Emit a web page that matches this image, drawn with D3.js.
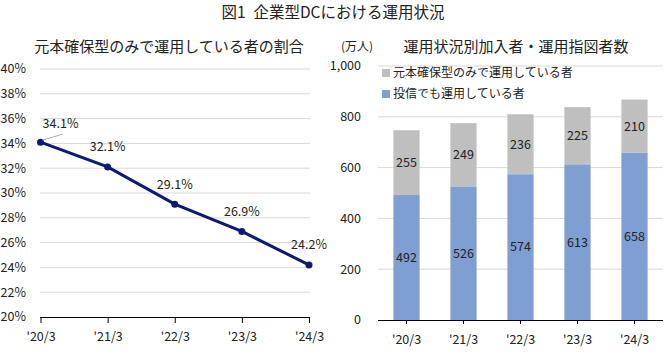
<!DOCTYPE html>
<html><head><meta charset="utf-8">
<script src="https://cdn.jsdelivr.net/npm/d3@7"></script>
<style>
body{margin:0;background:#fff;}
svg{display:block;font-family:"Noto Sans CJK JP","Noto Sans",sans-serif;}
</style></head><body>
<svg id="c" width="666" height="357"></svg>
<script>
const categories = ["'20/3","'21/3","'22/3","'23/3","'24/3"];
const ratioValues = [34.1, 32.1, 29.1, 26.9, 24.2];
const ratioTicks = [20,22,24,26,28,30,32,34,36,38,40];
const principalOnly = [255, 249, 236, 225, 210];
const withFunds = [492, 526, 574, 613, 658];
const countTicks = [0,200,400,600,800,1000];
const seriesNames = ["元本確保型のみで運用している者","投信でも運用している者"];
const mainTitle = "図1\u2002企業型DCにおける運用状況";
const leftTitle = "元本確保型のみで運用している者の割合";
const rightTitle = "運用状況別加入者・運用指図者数";
const unitLabel = "(万人)";

const svg = d3.select("#c");
const txt = "#222";
const grid = "#d9d9d9";

svg.append("text").attr("x",333).attr("y",18).attr("text-anchor","middle")
  .attr("font-size",15.5).attr("fill",txt).text(mainTitle);

// ---------- Left line chart ----------
const xL = d3.scalePoint().domain(categories).range([40.5,309]);
const yL = d3.scaleLinear().domain([20,40]).range([317,69]);
const gL = svg.append("g");
gL.append("text").attr("x",169).attr("y",52).attr("text-anchor","middle")
  .attr("font-size",15).attr("fill",txt).text(leftTitle);
gL.selectAll("line.grid").data(ratioTicks.filter(d=>d>20)).join("line")
  .attr("x1",40).attr("x2",310).attr("y1",d=>yL(d)).attr("y2",d=>yL(d))
  .attr("stroke",grid).attr("stroke-width",1);
gL.selectAll("text.yt").data(ratioTicks).join("text")
  .attr("x",26).attr("y",d=>yL(d)).attr("dy","0.35em").attr("text-anchor","end")
  .attr("font-size",12.5).attr("fill",txt).text(d=>d+"%");
const axL = gL.append("g").attr("transform","translate(0,317)")
  .call(d3.axisBottom(xL).tickSize(6).tickPadding(9));
axL.select(".domain").attr("stroke","#000").attr("d","M40,0.5H310");
axL.selectAll(".tick line").attr("stroke","#000");
axL.selectAll(".tick text").attr("font-size",12.5).attr("fill",txt)
  .attr("font-family","\"Noto Sans CJK JP\",sans-serif");
const line = d3.line().x((d,i)=>xL(categories[i])).y(d=>yL(d));
gL.append("path").datum(ratioValues).attr("d",line).attr("fill","none")
  .attr("stroke","#0b1a78").attr("stroke-width",3);
gL.selectAll("circle").data(ratioValues).join("circle")
  .attr("cx",(d,i)=>xL(categories[i])).attr("cy",d=>yL(d)).attr("r",3.5).attr("fill","#0b1a78");
// leader line for first label
gL.append("line").attr("x1",xL(categories[0])+2).attr("y1",yL(ratioValues[0])-2)
  .attr("x2",xL(categories[0])+22).attr("y2",yL(ratioValues[0])-8)
  .attr("stroke","#aaa").attr("stroke-width",1);
gL.selectAll("text.lbl").data(ratioValues).join("text")
  .attr("x",(d,i)=> i===0 ? xL(categories[i])+20 : xL(categories[i]))
  .attr("y",(d,i)=> yL(d) - (i===0 ? 19 : 20)).attr("dy","0.35em")
  .attr("text-anchor","middle").attr("font-size",12.5).attr("fill",txt)
  .text(d=>d.toFixed(1)+"%");

// ---------- Right stacked bar chart ----------
const xR = d3.scaleBand().domain(categories).range([378,663]).paddingInner(0.54).paddingOuter(0.27);
const yR = d3.scaleLinear().domain([0,1000]).range([320,66]);
const gR = svg.append("g");
gR.append("text").attr("x",516).attr("y",52).attr("text-anchor","middle")
  .attr("font-size",15).attr("fill",txt).text(rightTitle);
gR.append("text").attr("x",357).attr("y",51).attr("text-anchor","middle")
  .attr("font-size",12).attr("fill",txt).text(unitLabel);
gR.selectAll("line.grid").data(countTicks.filter(d=>d>0)).join("line")
  .attr("x1",378).attr("x2",663).attr("y1",d=>yR(d)).attr("y2",d=>yR(d))
  .attr("stroke",grid).attr("stroke-width",1);
gR.selectAll("text.yt").data(countTicks).join("text")
  .attr("x",361).attr("y",d=>yR(d)).attr("dy","0.35em").attr("text-anchor","end")
  .attr("font-size",12.5).attr("fill",txt).text(d=>d3.format(",")(d));
const colors = ["#bfbfbf","#7f9fd2"];
const rows = categories.map((c,i)=>({cat:c, a:withFunds[i], b:principalOnly[i]}));
// blue bottom
gR.selectAll("rect.blue").data(rows).join("rect")
  .attr("x",d=>xR(d.cat)).attr("width",xR.bandwidth())
  .attr("y",d=>yR(d.a)).attr("height",d=>yR(0)-yR(d.a)).attr("fill",colors[1]);
gR.selectAll("rect.gray").data(rows).join("rect")
  .attr("x",d=>xR(d.cat)).attr("width",xR.bandwidth())
  .attr("y",d=>yR(d.a+d.b)).attr("height",d=>yR(d.a)-yR(d.a+d.b)).attr("fill",colors[0]);
gR.selectAll("text.lb").data(rows).join("text")
  .attr("x",d=>xR(d.cat)+xR.bandwidth()/2).attr("y",d=>yR(d.a/2)).attr("dy","0.35em")
  .attr("text-anchor","middle").attr("font-size",12.5).attr("fill",txt).text(d=>d.a);
gR.selectAll("text.lg").data(rows).join("text")
  .attr("x",d=>xR(d.cat)+xR.bandwidth()/2).attr("y",d=>yR(d.a+d.b/2)).attr("dy","0.35em")
  .attr("text-anchor","middle").attr("font-size",12.5).attr("fill",txt).text(d=>d.b);
const axR = gR.append("g").attr("transform","translate(0,320)")
  .call(d3.axisBottom(xR).tickSize(4).tickPadding(11));
axR.select(".domain").attr("stroke","#000").attr("d","M378,0.5H663");
axR.selectAll(".tick line").attr("stroke","#000");
axR.selectAll(".tick text").attr("font-size",12.5).attr("fill",txt)
  .attr("font-family","\"Noto Sans CJK JP\",sans-serif");
// legend
const lg = gR.selectAll("g.leg").data(seriesNames).join("g")
  .attr("transform",(d,i)=>`translate(382,${73+i*21})`);
lg.append("rect").attr("x",0).attr("y",-4).attr("width",8).attr("height",8)
  .attr("fill",(d,i)=>colors[i]);
lg.append("text").attr("x",11).attr("y",0).attr("dy","0.35em")
  .attr("font-size",12).attr("fill",txt).text(d=>d);
</script>
</body></html>
